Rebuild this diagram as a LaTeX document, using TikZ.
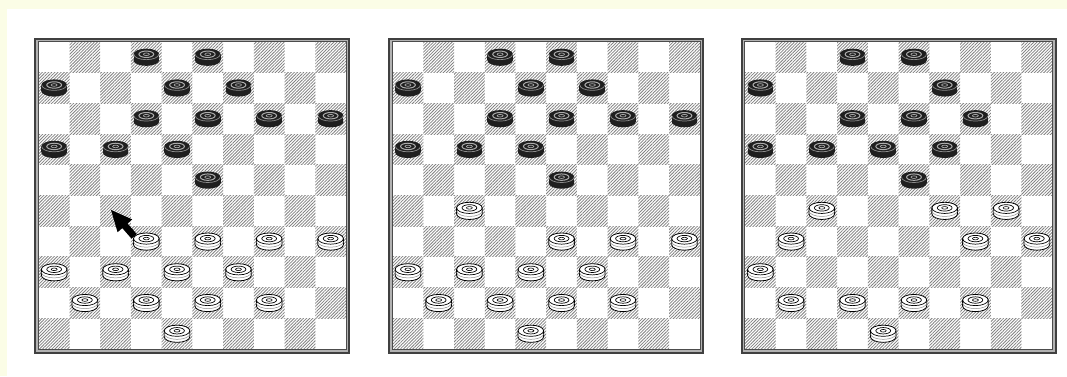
\documentclass[tikz,border=0pt]{standalone}
\usetikzlibrary{patterns.meta}
\definecolor{bgyellow}{RGB}{251,253,230}
\definecolor{hatch}{RGB}{130,130,130}
\tikzset{
  darksq/.style={pattern={Lines[angle=45,distance=2.2pt,line width=0.8pt]}, pattern color=hatch},
  bpiece/.pic={
    \fill[black!88] (0,3) ellipse [x radius=12.8, y radius=5.6];
    \fill[black!88] (-12.8,-3) rectangle (12.8,3);
    \fill[black!88] (0,-3) ellipse [x radius=12.8, y radius=5.6];
    \draw[black!45, line width=0.7pt] (-12.5,-3) arc[start angle=180, end angle=0, x radius=12.5, y radius=5.4];
    \draw[black!32, line width=1pt] (0,-3) ellipse [x radius=7.4, y radius=3.2];
    \draw[black!35, line width=0.7pt] (0,-3) ellipse [x radius=3, y radius=1.3];
  },
  wpiece/.pic={
    \filldraw[fill=white, draw=black, line width=0.8pt] (-12.8,-3) -- (-12.8,3) arc[start angle=180,end angle=0,x radius=12.8,y radius=5.6] -- (12.8,-3) arc[start angle=0,end angle=-180,x radius=12.8,y radius=5.6] -- cycle;
    \draw[black, line width=0.7pt] (-12.8,-3) arc[start angle=180,end angle=0,x radius=12.8,y radius=5.6];
    \draw[black!45, line width=0.5pt] (-12.8,0) arc[start angle=180,end angle=0,x radius=12.8,y radius=5.6];
    \draw[black, line width=0.7pt] (0,-3) ellipse [x radius=7.4, y radius=3.2];
    \draw[black, line width=0.6pt] (0,-3) ellipse [x radius=3, y radius=1.3];
  },
  frameouter/.style={line width=2pt, draw=black!75},
  framemid/.style={line width=1.4pt, draw=black!30},
  frameinner/.style={line width=0.9pt, draw=black!70},
}
\newcommand\drawboard[3]{%
  \begin{scope}[shift={(#1,37.5)}]
    \fill[white] (0,0) rectangle (316,316);
    \foreach \r in {1,...,10}{
      \foreach \k in {0,...,4}{
        \pgfmathtruncatemacro\sqcol{2*\k+1+mod(\r,2)}
        \fill[darksq] ({4.4+(\sqcol-1)*30.72},{4.4+(\r-1)*30.72}) rectangle +(30.72,30.72);
      }
    }
    \draw[frameouter] (1,1) rectangle (315,315);
    \draw[framemid] (2.7,2.7) rectangle (313.3,313.3);
    \draw[frameinner] (3.9,3.9) rectangle (312.1,312.1);
    \foreach \r/\c in {#2}{
      \pic at ({4.4+(\c-0.5)*30.72},{4.4+(\r-0.5)*30.72}) {bpiece};
    }
    \foreach \r/\c in {#3}{
      \pic at ({4.4+(\c-0.5)*30.72},{4.4+(\r-0.5)*30.72}) {wpiece};
    }
  \end{scope}
}
\begin{document}
\begin{tikzpicture}[x=1pt,y=-1pt]
  \useasboundingbox (0,0) rectangle (1067,376);
  \fill[bgyellow] (0,0) rectangle (1067,376);
  \fill[white] (7,9) rectangle (1067,376);
  \drawboard{34.4}
    {1/4,1/6,2/1,2/5,2/7,3/4,3/6,3/8,3/10,4/1,4/3,4/5,5/6}
    {7/4,7/6,7/8,7/10,8/1,8/3,8/5,8/7,9/2,9/4,9/6,9/8,10/5}
  \drawboard{388.2}
    {1/4,1/6,2/1,2/5,2/7,3/4,3/6,3/8,3/10,4/1,4/3,4/5,5/6}
    {6/3,7/6,7/8,7/10,8/1,8/3,8/5,8/7,9/2,9/4,9/6,9/8,10/5}
  \drawboard{740.6}
    {1/4,1/6,2/1,2/7,3/4,3/6,3/8,4/1,4/3,4/5,4/7,5/6}
    {6/3,6/7,6/9,7/2,7/8,7/10,8/1,9/2,9/4,9/6,9/8,10/5}
  % move arrow on the first board
  \fill[black] (111,210) -- (132.2,219.4) -- (127.5,223.5) -- (136.7,234.0)
    -- (131.5,238.6) -- (122.3,228.1) -- (117.6,232.2) -- cycle;
\end{tikzpicture}
\end{document}
